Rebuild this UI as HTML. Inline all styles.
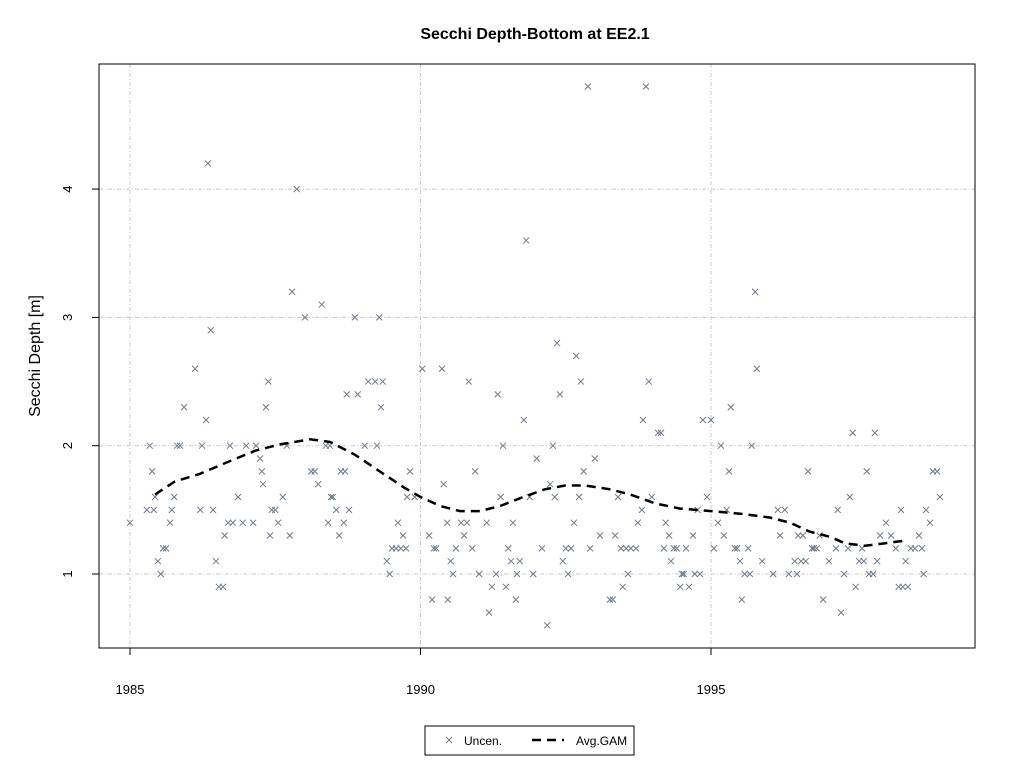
<!DOCTYPE html>
<html><head><meta charset="utf-8"><style>
body{margin:0;background:#fff;}
svg text{font-family:"Liberation Sans",Arial,sans-serif;}
</style></head><body>
<svg id="chart" width="1024" height="768" xmlns="http://www.w3.org/2000/svg">
<rect width="1024" height="768" fill="#fff"/>
<text x="535" y="39" text-anchor="middle" font-size="16" font-weight="bold">Secchi Depth-Bottom at EE2.1</text>
<g id="grid"></g>
<g id="axes"></g>
<g id="pts"></g>
<path id="gam" fill="none" stroke="#000" stroke-width="2.5" stroke-dasharray="9,6"/>
<rect x="99" y="64" width="876" height="584" fill="none" stroke="#000" stroke-width="1"/>
<text transform="translate(40,356) rotate(-90)" text-anchor="middle" font-size="16">Secchi Depth [m]</text>
<g>
<rect x="425" y="726" width="209" height="29" fill="#fff" stroke="#000"/>
<path d="M446,737 l6,6 M452,737 l-6,6" stroke="#6e7b8b" stroke-width="1"/>
<text x="464" y="745" font-size="12">Uncen.</text>
<line x1="532" y1="740" x2="564" y2="740" stroke="#000" stroke-width="2.5" stroke-dasharray="9,6"/>
<text x="576" y="745" font-size="12">Avg.GAM</text>
</g>
</svg>
<script>
const yearOffsets=[0,0.29,0.34,0.38,0.43,0.41,0.48,0.53,0.57,0.62,0.69,0.72,0.76,0.81,0.86,0.93,1.12,1.21,1.24,1.31,1.34,1.39,1.43,1.48,1.53,1.60,1.63,1.69,1.72,1.77,1.86,1.94,2.00,2.12,2.17,2.24,2.27,2.29,2.34,2.38,2.41,2.44,2.50,2.55,2.63,2.70,2.75,2.79,2.87,3.01,3.12,3.18,3.24,3.30,3.37,3.41,3.44,3.46,3.49,3.55,3.60,3.63,3.68,3.70,3.73,3.77,3.87,3.92,4.04,4.10,4.22,4.25,4.29,4.32,4.35,4.42,4.47,4.51,4.58,4.61,4.66,4.70,4.75,4.77,4.82,4.90,5.03,5.15,5.20,5.23,5.27,5.37,5.40,5.46,5.47,5.52,5.56,5.61,5.70,5.75,5.80,5.83,5.89,5.94,6.01,6.14,6.18,6.23,6.30,6.33,6.38,6.42,6.47,6.51,6.56,6.59,6.64,6.66,6.71,6.78,6.82,6.88,6.94,7.00,7.09,7.18,7.23,7.28,7.31,7.35,7.40,7.45,7.50,7.54,7.59,7.64,7.68,7.73,7.76,7.81,7.88,7.92,8.00,8.09,8.26,8.31,8.35,8.40,8.45,8.48,8.54,8.57,8.62,8.71,8.74,8.81,8.83,8.88,8.93,8.98,9.09,9.14,9.19,9.22,9.28,9.31,9.36,9.41,9.47,9.50,9.53,9.57,9.62,9.69,9.72,9.77,9.81,9.86,9.93,10.00,10.05,10.12,10.17,10.22,10.27,10.31,10.34,10.41,10.45,10.50,10.53,10.58,10.64,10.67,10.70,10.76,10.79,10.88,11.07,11.15,11.19,11.27,11.34,11.44,11.48,11.50,11.55,11.58,11.63,11.67,11.74,11.77,11.82,11.87,11.93,12.03,12.15,12.18,12.24,12.29,12.36,12.39,12.44,12.49,12.55,12.60,12.63,12.68,12.72,12.79,12.82,12.86,12.91,13.01,13.10,13.18,13.23,13.27,13.30,13.35,13.39,13.44,13.51,13.58,13.63,13.66,13.70,13.77,13.82,13.89,13.94];
const depths=[1.4,1.5,2.0,1.8,1.6,1.5,1.1,1.0,1.2,1.2,1.4,1.5,1.6,2.0,2.0,2.3,2.6,1.5,2.0,2.2,4.2,2.9,1.5,1.1,0.9,0.9,1.3,1.4,2.0,1.4,1.6,1.4,2.0,1.4,2.0,1.9,1.8,1.7,2.3,2.5,1.3,1.5,1.5,1.4,1.6,2.0,1.3,3.2,4.0,3.0,1.8,1.8,1.7,3.1,2.0,1.4,2.0,1.6,1.6,1.5,1.3,1.8,1.4,1.8,2.4,1.5,3.0,2.4,2.0,2.5,2.5,2.0,3.0,2.3,2.5,1.1,1.0,1.2,1.2,1.4,1.2,1.3,1.2,1.6,1.8,1.6,2.6,1.3,0.8,1.2,1.2,2.6,1.7,1.4,0.8,1.1,1.0,1.2,1.4,1.3,1.4,2.5,1.2,1.8,1.0,1.4,0.7,0.9,1.0,2.4,1.6,2.0,0.9,1.2,1.1,1.4,0.8,1.0,1.1,2.2,3.6,1.6,1.0,1.9,1.2,0.6,1.7,2.0,1.6,2.8,2.4,1.1,1.2,1.0,1.2,1.4,2.7,1.6,2.5,1.8,4.8,1.2,1.9,1.3,0.8,0.8,1.3,1.6,1.2,0.9,1.2,1.0,1.2,1.2,1.4,1.5,2.2,4.8,2.5,1.6,2.1,2.1,1.2,1.4,1.3,1.1,1.2,1.2,0.9,1.0,1.0,1.2,0.9,1.3,1.0,1.5,1.0,2.2,1.6,2.2,1.2,1.4,2.0,1.3,1.5,1.8,2.3,1.2,1.2,1.1,0.8,1.0,1.2,1.0,2.0,3.2,2.6,1.1,1.0,1.5,1.3,1.5,1.0,1.1,1.0,1.3,1.1,1.3,1.1,1.8,1.2,1.2,1.2,1.3,0.8,1.1,1.2,1.5,0.7,1.0,1.2,1.6,2.1,0.9,1.1,1.2,1.1,1.8,1.0,1.0,2.1,1.1,1.3,1.4,1.3,1.2,0.9,1.5,0.9,1.1,0.9,1.2,1.2,1.3,1.2,1.0,1.5,1.4,1.8,1.8,1.6];
const gamOffsets=[0.43,0.77,1.2,1.72,2.15,2.58,3.1,3.44,3.87,4.3,4.73,5.0,5.34,5.68,6.02,6.37,6.71,7.14,7.49,7.83,8.26,8.61,9.04,9.47,10.0,10.5,11.01,11.36,11.7,12.05,12.3,12.65,13.0,13.34];
const gamValues=[1.62,1.72,1.78,1.88,1.96,2.01,2.05,2.03,1.93,1.80,1.67,1.6,1.53,1.49,1.49,1.53,1.59,1.66,1.69,1.69,1.66,1.62,1.55,1.51,1.49,1.47,1.44,1.40,1.33,1.29,1.24,1.22,1.24,1.26];
const xTicks=[1985,1990,1995];
const yTicks=[1,2,3,4];
const NS="http://www.w3.org/2000/svg";
const xs=y=>130+(y-1985)*58.1;
const ys=v=>574-(v-1)*128.3;
function mk(tag,attrs,parent){const e=document.createElementNS(NS,tag);for(const k in attrs)e.setAttribute(k,attrs[k]);parent.appendChild(e);return e;}
const grid=document.getElementById('grid'),axes=document.getElementById('axes'),pts=document.getElementById('pts');
xTicks.forEach(t=>{const x=xs(t);
 const g=mk('line',{x1:x,y1:64,x2:x,y2:648,stroke:'#c8c8c8','stroke-dasharray':'4,2,1,2'},grid);
 
 const tk=mk('line',{x1:x,y1:648,x2:x,y2:655,stroke:'#000'},axes);
 
 const tx=mk('text',{x:x,y:694,'text-anchor':'middle','font-size':'13'},axes);tx.textContent=t;
 });
yTicks.forEach(t=>{const y=ys(t);
 const g=mk('line',{x1:99,y1:y,x2:975,y2:y,stroke:'#c8c8c8','stroke-dasharray':'4,2,1,2'},grid);
 
 const tk=mk('line',{x1:92,y1:y,x2:99,y2:y,stroke:'#000'},axes);
 
 const tx=mk('text',{transform:`translate(72,${y}) rotate(-90)`,'text-anchor':'middle','font-size':'13'},axes);tx.textContent=t;
 });
yearOffsets.forEach((o,i)=>{const x=xs(1985+o),y=ys(depths[i]);
 const p=mk('path',{d:`M${x-3},${y-3}L${x+3},${y+3}M${x+3},${y-3}L${x-3},${y+3}`,stroke:'#6e7b8b','stroke-width':'1',fill:'none'},pts);
 });
document.getElementById('gam').setAttribute('d',gamOffsets.map((o,i)=>(i?'L':'M')+xs(1985+o).toFixed(1)+','+ys(gamValues[i]).toFixed(1)).join(''));
</script>
</body></html>
